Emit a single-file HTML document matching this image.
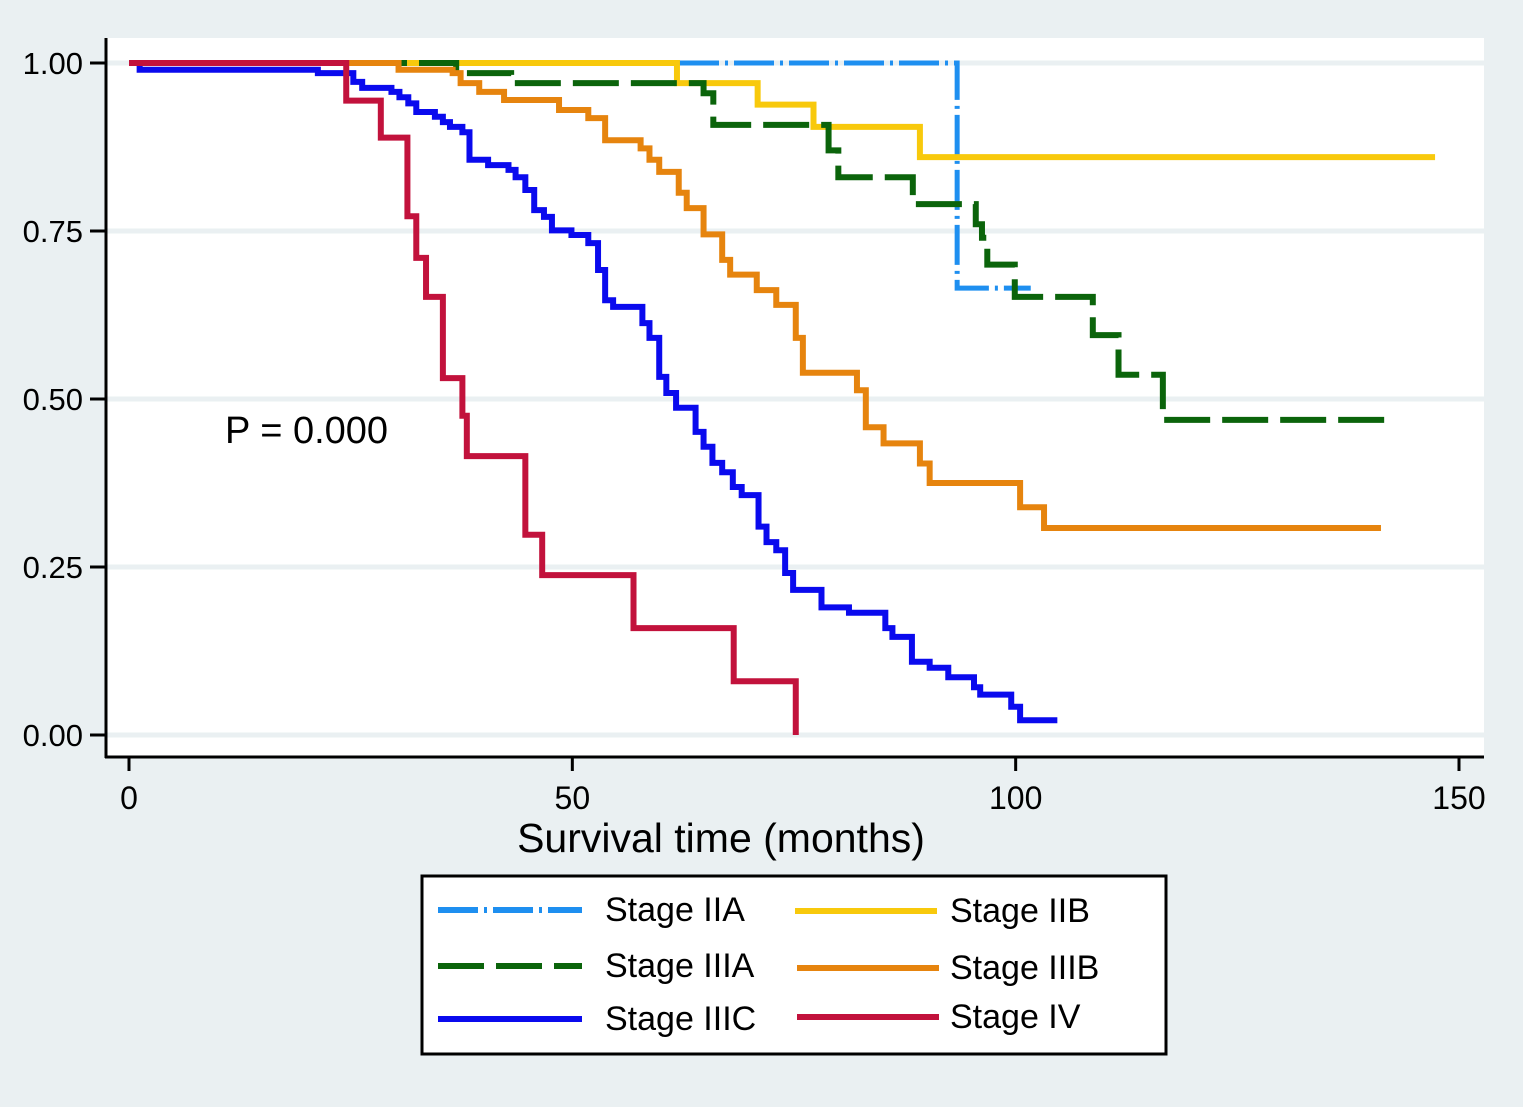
<!DOCTYPE html>
<html><head><meta charset="utf-8"><style>
html,body{margin:0;padding:0;background:#eaf0f2;}
svg{display:block;font-family:"Liberation Sans",Arial,sans-serif;}
</style></head><body>
<svg id="chart" width="1523" height="1107" xmlns="http://www.w3.org/2000/svg">
<rect x="0" y="0" width="1523" height="1107" fill="#eaf0f2"/>
<rect x="106" y="38" width="1378" height="719" fill="#ffffff"/>
<g id="grid"></g><g id="series"></g><g id="axes"></g>
<text x="225" y="443" font-size="38" fill="#000">P = 0.000</text>
<text x="721" y="852" font-size="41" text-anchor="middle" fill="#000">Survival time (months)</text>
<g>
<rect x="422" y="876" width="744" height="178" fill="#fff" stroke="#000" stroke-width="3"/>
<g id="legend"></g>
</g>
</svg>
<script>
const NS="http://www.w3.org/2000/svg";
const yTicks=[0,0.25,0.5,0.75,1];
const yTickLabels=["0.00","0.25","0.50","0.75","1.00"];
const xTicks=[0,50,100,150];
const xTickLabels=["0","50","100","150"];
const seriesNames=["Stage IIA","Stage IIB","Stage IIIA","Stage IIIB","Stage IIIC","Stage IV"];
const iiaTimes=[0,93.4];const iiaSurv=[1,0.665];const iiaEnd=101.7;
const iibTimes=[0,61.8,70.9,77.2,89.2];const iibSurv=[1,0.970,0.938,0.905,0.860];const iibEnd=147.3;
const iiiaTimes=[0,36.9,43.1,64.8,65.9,78.9,80.0,88.4,95.5,96.2,96.8,99.9,108.7,111.6,116.6];
const iiiaSurv=[1,0.985,0.970,0.955,0.908,0.870,0.830,0.790,0.760,0.740,0.700,0.652,0.595,0.536,0.469];const iiiaEnd=142.1;
const iiibTimes=[0,30.4,36.5,37.4,39.5,42.3,48.5,51.8,53.7,57.7,58.7,59.8,62.0,62.9,64.8,66.9,67.8,70.8,73.0,75.2,76.0,82.1,83.1,85.1,89.2,90.3,100.5,103.2];
const iiibSurv=[1,0.990,0.985,0.970,0.957,0.945,0.930,0.918,0.885,0.873,0.856,0.838,0.807,0.784,0.745,0.707,0.685,0.662,0.640,0.591,0.539,0.513,0.458,0.434,0.404,0.375,0.339,0.308];const iiibEnd=141.2;
const iiicTimes=[0,1.2,21.3,25.3,26.3,29.6,30.5,31.5,32.4,34.5,35.4,36.2,37.6,38.4,40.5,42.8,43.6,44.7,45.7,46.8,47.7,49.9,51.8,52.9,53.7,54.6,57.9,58.7,59.8,60.6,61.7,63.9,64.8,65.8,66.9,68.1,69.1,71.0,71.9,73.0,74.0,74.9,78.1,81.2,85.3,86.1,88.3,90.3,92.4,95.3,96.0,99.5,100.5];
const iiicSurv=[1,0.990,0.985,0.972,0.963,0.957,0.949,0.940,0.927,0.920,0.912,0.905,0.897,0.856,0.848,0.841,0.830,0.811,0.781,0.771,0.751,0.744,0.732,0.692,0.647,0.637,0.613,0.591,0.533,0.509,0.487,0.451,0.429,0.405,0.391,0.369,0.357,0.310,0.287,0.275,0.241,0.216,0.190,0.182,0.159,0.146,0.109,0.100,0.086,0.071,0.060,0.042,0.022];const iiicEnd=104.7;
const ivTimes=[0,24.5,28.4,31.4,32.4,33.5,35.4,37.6,38.1,44.7,46.6,56.9,68.2,75.2];
const ivSurv=[1,0.944,0.889,0.772,0.710,0.652,0.531,0.475,0.415,0.298,0.238,0.159,0.080,0];const ivEnd=75.2;

const X=t=>129+t*(1459-129)/150;
const Y=s=>735-s*672;
function mk(tag,attrs,parent){const e=document.createElementNS(NS,tag);for(const k in attrs)e.setAttribute(k,attrs[k]);parent.appendChild(e);return e;}
const grid=document.getElementById('grid'),axes=document.getElementById('axes'),ser=document.getElementById('series'),leg=document.getElementById('legend');
yTicks.forEach((v,i)=>{
 const g=mk('line',{x1:106,x2:1484,y1:Y(v),y2:Y(v),stroke:'#eaf0f2','stroke-width':5},grid);
 
 
 const tk=mk('line',{x1:90,x2:106,y1:Y(v),y2:Y(v),stroke:'#000','stroke-width':3},axes);
 
 
 const t=mk('text',{x:83,y:Y(v)+11,'font-size':31,'text-anchor':'end'},axes);t.textContent=yTickLabels[i];
 
 
});
xTicks.forEach((v,i)=>{
 const tk=mk('line',{x1:X(v),x2:X(v),y1:757,y2:771,stroke:'#000','stroke-width':3},axes);
 
 
 const t=mk('text',{x:X(v),y:809,'font-size':32,'text-anchor':'middle'},axes);t.textContent=xTickLabels[i];
 
 
});
const ya=mk('line',{x1:106,x2:106,y1:38,y2:758,stroke:'#000','stroke-width':3},axes);


const xa=mk('line',{x1:105,x2:1484,y1:757,y2:757,stroke:'#000','stroke-width':3},axes);



const styles=[
 {c:'#1e8ff0',d:'40 6 3 6'},{c:'#f8c90c',d:''},{c:'#0b640b',d:'46 12'},
 {c:'#e6840e',d:''},{c:'#0a0aee',d:''},{c:'#c2123c',d:''}];
const data=[[iiaTimes,iiaSurv,iiaEnd],[iibTimes,iibSurv,iibEnd],[iiiaTimes,iiiaSurv,iiiaEnd],[iiibTimes,iiibSurv,iiibEnd],[iiicTimes,iiicSurv,iiicEnd],[ivTimes,ivSurv,ivEnd]];
const drawOrder=[0,1,2,3,4,5];
drawOrder.forEach(i=>{
 const [ts,ss,end]=data[i];let d=`M${X(ts[0])},${Y(ss[0])}`;
 for(let k=1;k<ts.length;k++){d+=` H${X(ts[k])} V${Y(ss[k])}`;}
 d+=` H${X(end)}`;
 const p=mk('path',{d:d,fill:'none',stroke:styles[i].c,'stroke-width':i==0?5:6,'stroke-linejoin':'miter'},ser);
 if(styles[i].d)p.setAttribute('stroke-dasharray',styles[i].d);
 
 
});
const legPos=[[438,582,910,605],[795,937,911,950],[438,582,966,605],[797,939,968,950],[438,582,1019,605],[797,939,1017,950]];
seriesNames.forEach((n,i)=>{
 const [x1,x2,y,tx]=legPos[i];
 const l=mk('line',{x1:x1,x2:x2,y1:y,y2:y,stroke:styles[i].c,'stroke-width':6},leg);
 if(styles[i].d)l.setAttribute('stroke-dasharray',styles[i].d);
 
 
 const t=mk('text',{x:tx,y:y+11,'font-size':34},leg);t.textContent=n;
 
 
});
</script>
</body></html>
